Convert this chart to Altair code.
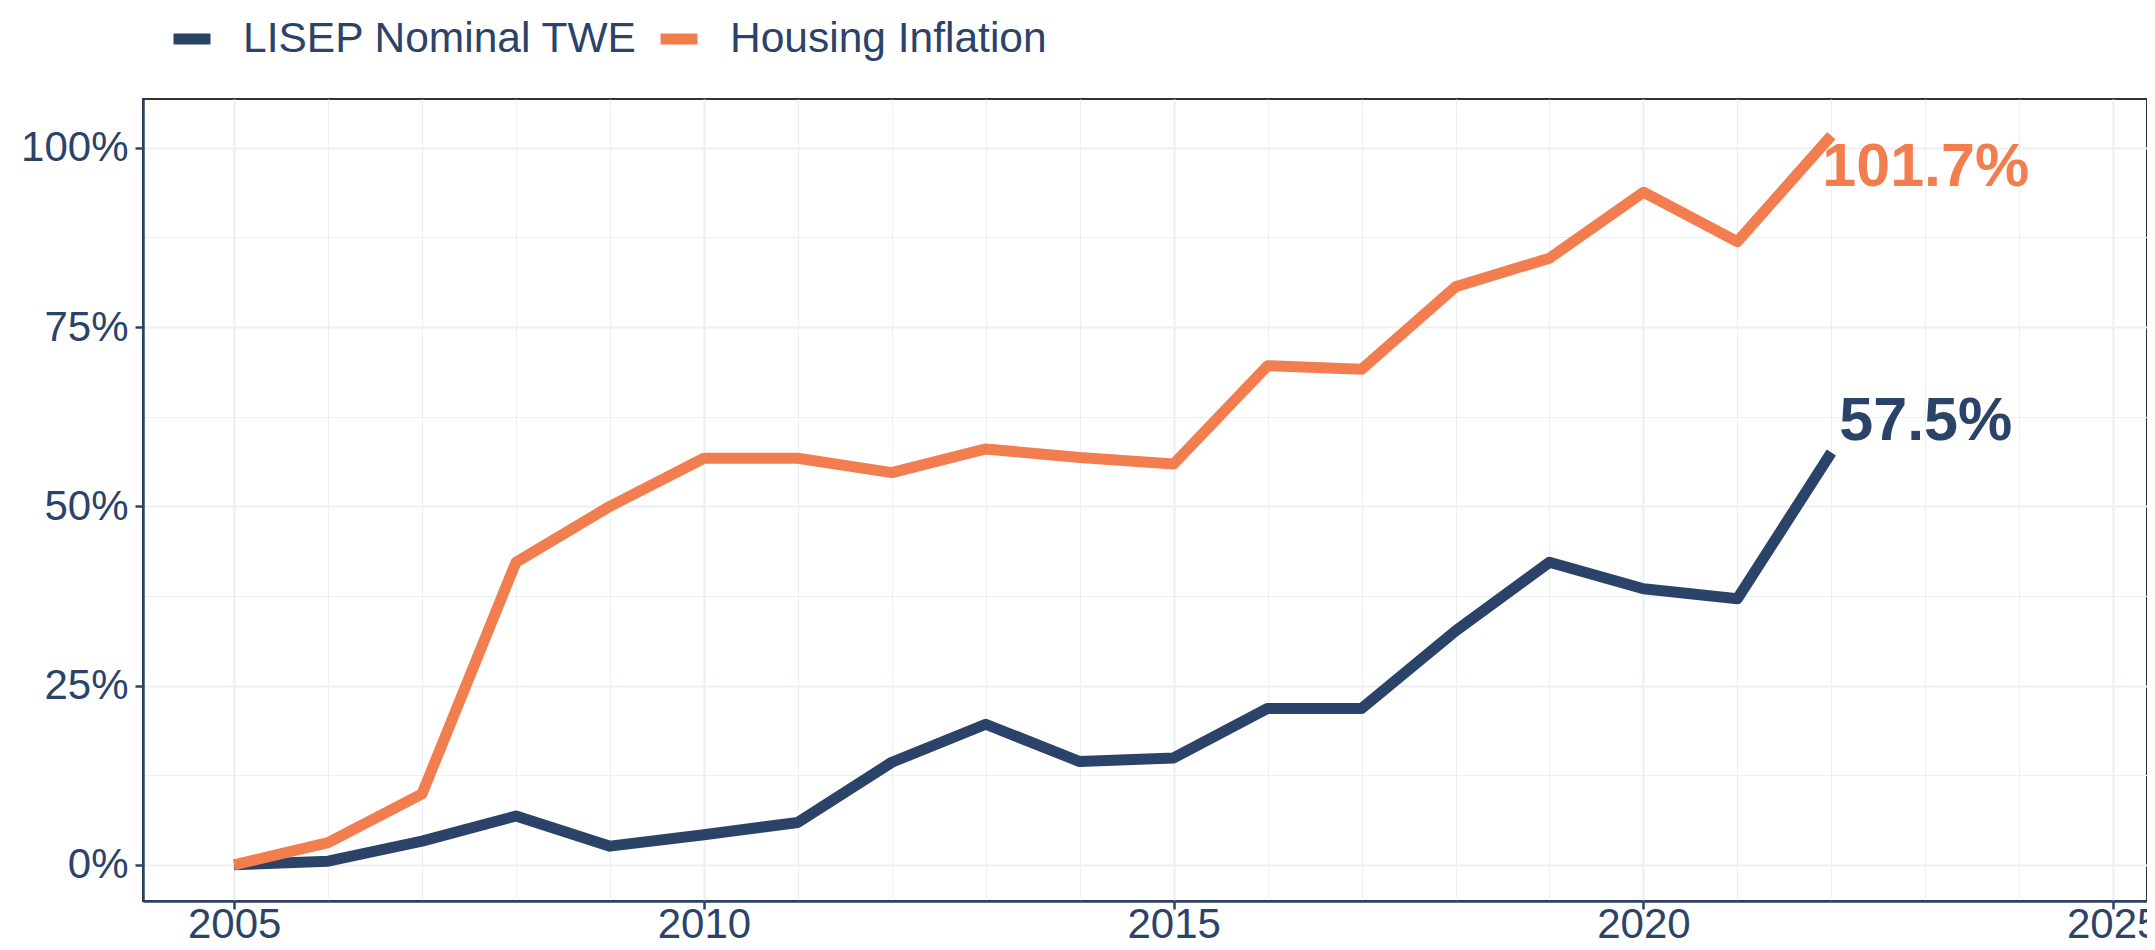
import altair as alt
import pandas as pd

years = [2005, 2006, 2007, 2008, 2009, 2010, 2011, 2012, 2013, 2014, 2015, 2016, 2017, 2018, 2019, 2020, 2021, 2022]
lisep = [0.0, 0.5, 3.3, 6.8, 2.6, 4.2, 5.9, 14.3, 19.6, 14.4, 14.9, 21.8, 21.8, 32.6, 42.2, 38.5, 37.1, 57.5]
housing = [0.0, 3.1, 9.9, 42.2, 50.0, 56.7, 56.7, 54.7, 58.0, 56.8, 55.9, 69.6, 69.1, 80.6, 84.6, 93.8, 86.9, 101.7]
series_names = ["LISEP Nominal TWE", "Housing Inflation"]
colors = ["#2C4369", "#F27E4F"]
end_labels = ["57.5%", "101.7%"]

x_grid_values = [2005, 2006, 2007, 2008, 2009, 2010, 2011, 2012, 2013, 2014, 2015,
                 2016, 2017, 2018, 2019, 2020, 2021, 2022, 2023, 2024, 2025]
y_grid_values = [0, 12.5, 25, 37.5, 50, 62.5, 75, 87.5, 100]

NAVY = "#2C4369"
FONT = "Liberation Sans"

rows = []
for name, vals in zip(series_names, [lisep, housing]):
    for yr, v in zip(years, vals):
        rows.append({"year": yr, "value": v, "series": name})
df = pd.DataFrame(rows)

lab_df = pd.DataFrame({
    "year": [years[-1], years[-1]],
    "value": [lisep[-1], housing[-1]],
    "series": series_names,
    "text": end_labels,
})

x_enc = alt.X(
    "year:Q",
    scale=alt.Scale(domain=[2004.03, 2025.36], nice=False, zero=False),
    axis=alt.Axis(
        values=x_grid_values, format="d", title=None,
        labelExpr="datum.value % 5 === 0 ? datum.label : ''",
        labelFont=FONT, labelFontSize=42, labelColor=NAVY, labelPadding=-5,
        tickSize=8, tickWidth=2.5,
        tickColor={"condition": {"test": "datum.value % 5 !== 0", "value": "transparent"}, "value": NAVY},
        domainColor=NAVY, domainWidth=2.5,
        grid=True, gridColor="#ECEFF4",
        gridWidth={"condition": {"test": "datum.value % 5 === 0", "value": 2.2}, "value": 1.1},
        labelFlush=False, labelOverlap=False,
    ),
)
y_enc = alt.Y(
    "value:Q",
    scale=alt.Scale(domain=[-5.05, 106.8], nice=False, zero=False),
    axis=alt.Axis(
        values=y_grid_values, title=None,
        labelExpr="datum.value % 25 === 0 ? datum.value + '%' : ''",
        labelFont=FONT, labelFontSize=42, labelColor=NAVY, labelPadding=7,
        tickSize=8, tickWidth=2.5,
        tickColor={"condition": {"test": "datum.value % 25 !== 0", "value": "transparent"}, "value": NAVY},
        domainColor=NAVY, domainWidth=2.5,
        grid=True, gridColor="#ECEFF4",
        gridWidth={"condition": {"test": "datum.value % 25 === 0", "value": 2.2}, "value": 1.1},
        labelOverlap=False,
    ),
)

lines = alt.Chart(df).mark_line(strokeWidth=11, strokeJoin="round", strokeCap="butt").encode(
    x=x_enc,
    y=y_enc,
    color=alt.Color(
        "series:N",
        scale=alt.Scale(domain=series_names, range=colors),
        sort=series_names,
        legend=alt.Legend(
            title=None, orient="none", direction="horizontal",
            legendX=25, legendY=-84, padding=0,
            symbolType="stroke", symbolStrokeWidth=11, symbolSize=1369,
            labelFont=FONT, labelFontSize=42.5, labelColor=NAVY, labelLimit=0,
            labelOffset=27, columnPadding=0,
        ),
    ),
    order="year:Q",
)

lab_navy = alt.Chart(lab_df).transform_filter(
    alt.datum.series == series_names[0]
).mark_text(
    font=FONT, fontSize=61, fontWeight="bold", align="left", baseline="alphabetic",
    dx=8, dy=-12, color=colors[0],
).encode(x="year:Q", y="value:Q", text="text:N")

lab_orange = alt.Chart(lab_df).transform_filter(
    alt.datum.series == series_names[1]
).mark_text(
    font=FONT, fontSize=61, fontWeight="bold", align="left", baseline="alphabetic",
    dx=-9, dy=50, color=colors[1],
).encode(x="year:Q", y="value:Q", text="text:N")

chart = alt.layer(lines, lab_navy, lab_orange).properties(
    width=2004, height=802,
    autosize=alt.AutoSizeParams(type="none"),
    padding={"left": 135, "top": 91, "right": 0, "bottom": 41},
    background="white",
).configure_view(stroke="#333333", strokeWidth=2)

chart.save("out.html", embed_options={"renderer": "svg", "actions": False})
